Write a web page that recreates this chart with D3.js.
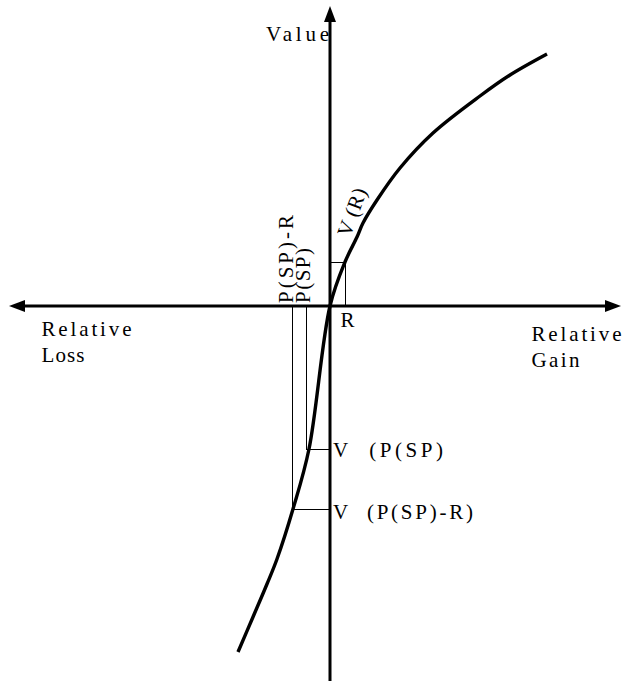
<!DOCTYPE html>
<html>
<head>
<meta charset="utf-8">
<script src="https://cdn.jsdelivr.net/npm/d3@7"></script>
<style>
  html, body { margin: 0; padding: 0; background: #fff; }
  svg { display: block; }
  text { font-family: "Liberation Serif", "Times New Roman", serif; font-size: 21px; fill: #000; }
</style>
</head>
<body>
<svg id="chart" width="623" height="681"></svg>
<script>
// ---- data (relative outcome vs. value, schematic units) ----
const gainX   = [0, 1.5, 2.7, 3.3, 4.7, 7.0, 10.3, 15.0, 18.0, 21.7];
const gainY   = [0, 4.4, 6.9, 8.3, 10.6, 13.8, 17.3, 21.0, 23.1, 25.2];
const lossX   = [-9.2, -7.7, -6.3, -5.3, -3.7, -2.1, 0];
const lossY   = [-34.6, -31.1, -27.8, -25.3, -20.3, -14.3, 0];

const xExtent = [-32.1, 29.1];   // relative loss ... relative gain
const yExtent = [-37.5, 30.0];   // value

// reference points
const refNames = ["R", "P(SP)", "P(SP)-R"];
const refX     = [1.5, -2.4, -3.8];
const refY     = [4.4, -14.3, -20.3];

// text labels
const axisLabelY   = "Value";
const lossLabel    = ["Relative", "Loss"];
const gainLabel    = ["Relative", "Gain"];
const valueLabels  = ["V (R)", "V\u00a0\u00a0(P(SP)", "V\u00a0\u00a0(P(SP)-R)"];

// ---- drawing ----
const svg = d3.select("#chart");

const x = d3.scaleLinear().domain(xExtent).range([9, 621]);
const y = d3.scaleLinear().domain(yExtent).range([681, 6]);

const x0 = x(0), y0 = y(0);

// axes lines
const axisW = 3;
svg.append("line").attr("x1", x(xExtent[0]) + 10).attr("x2", x(xExtent[1]) - 10)
   .attr("y1", y0).attr("y2", y0).attr("stroke", "#000").attr("stroke-width", axisW);
svg.append("line").attr("x1", x0).attr("x2", x0)
   .attr("y1", y(yExtent[1]) + 10).attr("y2", y(yExtent[0]))
   .attr("stroke", "#000").attr("stroke-width", axisW);

// arrowheads
const aL = 16, aW = 6;
function arrow(tx, ty, dx, dy) {
  const bx = tx - dx * aL, by = ty - dy * aL;
  const px = -dy, py = dx;
  svg.append("path")
     .attr("d", `M${tx},${ty}L${bx + px * aW},${by + py * aW}L${bx - px * aW},${by - py * aW}Z`)
     .attr("fill", "#000");
}
arrow(x(xExtent[0]), y0, -1, 0);
arrow(x(xExtent[1]), y0, 1, 0);
arrow(x0, y(yExtent[1]), 0, -1);

// thin reference lines
const thin = 1;
const g = svg.append("g").attr("shape-rendering", "crispEdges");
refX.forEach((rx, i) => {
  g.append("line").attr("x1", x(rx)).attr("x2", x(rx)).attr("y1", y0).attr("y2", y(refY[i]))
   .attr("stroke", "#000").attr("stroke-width", thin);
  g.append("line").attr("x1", x(rx)).attr("x2", x0).attr("y1", y(refY[i])).attr("y2", y(refY[i]))
   .attr("stroke", "#000").attr("stroke-width", thin);
});

// value curve
const pts = lossX.map((v, i) => [v, lossY[i]])
  .concat(gainX.slice(1).map((v, i) => [v, gainY[i + 1]]));
const line = d3.line().x(d => x(d[0])).y(d => y(d[1])).curve(d3.curveCatmullRom.alpha(0.5));
svg.append("path").attr("d", line(pts)).attr("fill", "none")
   .attr("stroke", "#000").attr("stroke-width", 3.4).attr("stroke-linejoin", "round");

// labels
function label(txt, px, py, len, rot) {
  const t = svg.append("text").attr("x", px).attr("y", py).text(txt);
  if (len) t.attr("textLength", len).attr("lengthAdjust", "spacing");
  if (rot) t.attr("transform", `rotate(${rot},${px},${py})`);
  return t;
}
label(axisLabelY, 266, 41, 63);
label(lossLabel[0], 41.5, 336, 90);
label(lossLabel[1], 41.5, 362, 43);
label(gainLabel[0], 531.5, 341, 90);
label(gainLabel[1], 531.5, 367, 48);
label(refNames[0], 340.5, 327);
label(refNames[2], x(refX[2]) + 0.5, 303, 88, -90);
label(refNames[1], x(refX[1]) + 4, 303, 55, -90);
label(valueLabels[0], 350, 238, 50, -70);
label(valueLabels[1], 333, 457, 110);
label(valueLabels[2], 333, 519, 140);
</script>
</body>
</html>
